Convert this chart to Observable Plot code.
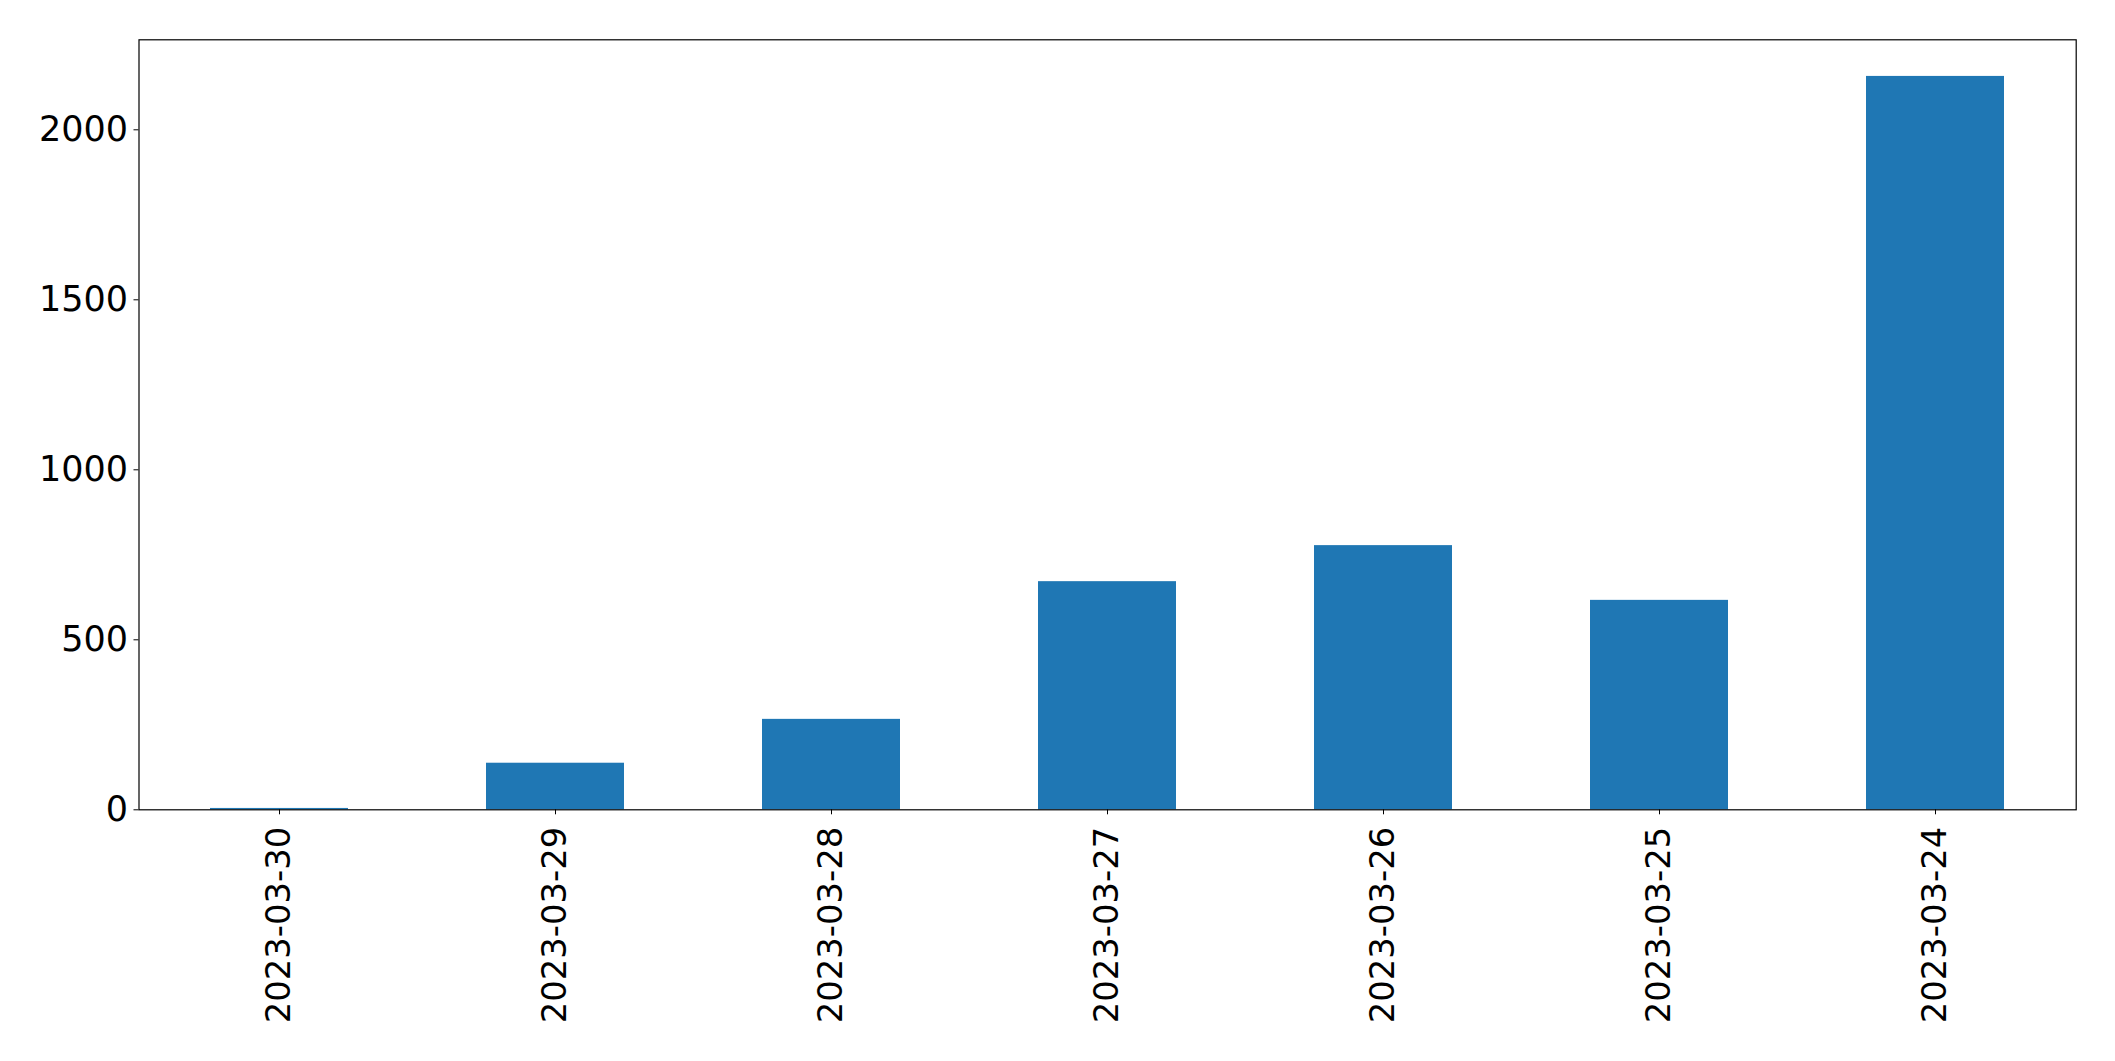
<!DOCTYPE html>
<html>
<head>
<meta charset="utf-8">
<script src="https://cdn.jsdelivr.net/npm/d3@7"></script>
<script src="https://cdn.jsdelivr.net/npm/@observablehq/plot@0.6"></script>
<style>
  html, body { margin: 0; padding: 0; background: #fff; }
  #chart svg { display: block; }
</style>
</head>
<body>
<div id="chart"></div>
<script>
const dates = ["2023-03-30", "2023-03-29", "2023-03-28", "2023-03-27", "2023-03-26", "2023-03-25", "2023-03-24"];
const counts = [4, 137, 266, 671, 777, 616, 2157];
const yTicks = [0, 500, 1000, 1500, 2000];

const data = dates.map((d, i) => ({date: d, count: counts[i]}));

const chart = Plot.plot({
  width: 2115,
  height: 1061,
  marginLeft: 138.5,
  marginRight: 39.3,
  marginTop: 39.3,
  marginBottom: 251.7,
  style: {fontFamily: "'DejaVu Sans', sans-serif", fontSize: "34.5px", color: "#000", background: "#fff"},
  x: {type: "band", domain: dates, paddingInner: 0.5, paddingOuter: 0.25, label: null},
  y: {domain: [0, 2264.7], label: null},
  marks: [
    Plot.barY(data, {x: "date", y: "count", fill: "#1f77b4"}),
    Plot.axisY({ticks: yTicks, tickFormat: d => String(d), tickSize: 5, tickPadding: 6, label: null, fontSize: 35, fill: "#000", stroke: "#000"}),
    Plot.axisX({tickSize: 5, tickPadding: 12, tickRotate: -90, textAnchor: "end", lineAnchor: "middle", label: null, fontSize: 33.8, fill: "#000", stroke: "#000"}),
    Plot.frame({stroke: "#000", strokeWidth: 1.2})
  ]
});
document.getElementById("chart").appendChild(chart);
</script>
</body>
</html>
